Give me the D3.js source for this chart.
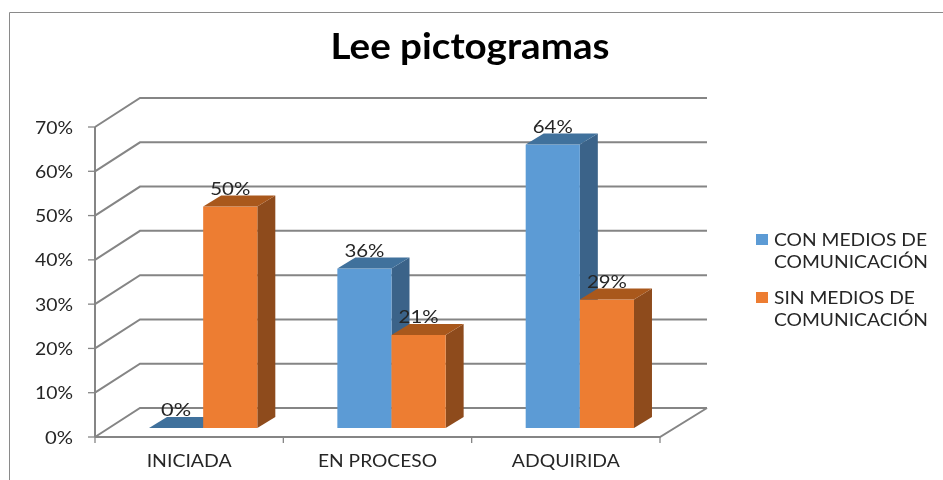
<!DOCTYPE html>
<html><head><meta charset="utf-8">
<script src="https://cdn.jsdelivr.net/npm/d3@7"></script>
<style>html,body{margin:0;padding:0;background:#fff}svg{display:block}text{font-family:Lato,"Open Sans",sans-serif;fill:#262626}</style>
</head><body><svg id="c" width="943" height="480"></svg>
<script>
const categories = ["INICIADA", "EN PROCESO", "ADQUIRIDA"];
const seriesNames = ["CON MEDIOS DE COMUNICACIÓN", "SIN MEDIOS DE COMUNICACIÓN"];
const conMedios = [0, 36, 64];
const sinMedios = [50, 21, 29];
const yTicks = [0, 10, 20, 30, 40, 50, 60, 70];
const legendLines = [["CON MEDIOS DE", "COMUNICACIÓN"], ["SIN MEDIOS DE", "COMUNICACIÓN"]];
const title = "Lee pictogramas";

const colors = [{front:"#5b9bd5", side:"#3a6389", top:"#41719c"}, {front:"#ed7d31", side:"#8e4b1d", top:"#a9591f"}];
const svg = d3.select("#c");
const defs = svg.append("defs");
defs.append("filter").attr("id","soft").append("feGaussianBlur").attr("stdDeviation",0.5);
const root = svg.append("g").attr("filter","url(#soft)");
root.append("rect").attr("width",943).attr("height",480).attr("fill","#fff");

const x0 = 95, x1 = 660, y0 = 437, yTop = 127, depthX = 45, depthY = 29;
const y = d3.scaleLinear().domain([0,70]).range([y0,yTop]);
const x = d3.scaleBand().domain(categories).range([x0,x1]);
const inner = d3.scaleBand().domain([0,1]).range([x.bandwidth()*0.2125, x.bandwidth()*0.7875]);
const gridColor = "#858585";
const pctW = v => v < 10 ? 28 : 38;

// frame
root.append("path").attr("d","M9.5 480V12.5H943").attr("fill","none").attr("stroke","#8a8a8a").attr("stroke-width",1);

// walls
yTicks.forEach(t=>{
  const yy = y(t);
  root.append("path").attr("fill","none").attr("stroke",gridColor).attr("stroke-width",2)
    .attr("d",`M${x0} ${yy}L${x0+depthX} ${yy-depthY}H${x1+depthX+2}`);
  root.append("line").attr("x1",x0-7).attr("x2",x0).attr("y1",yy).attr("y2",yy).attr("stroke",gridColor).attr("stroke-width",1.3);
  root.append("text").attr("x",73).attr("y",yy+2).attr("text-anchor","end")
    .attr("dominant-baseline","middle").attr("font-size",18).attr("textLength",pctW(t)).attr("lengthAdjust","spacingAndGlyphs").text(t+"%");
});
root.append("line").attr("x1",x0).attr("x2",x0).attr("y1",yTop).attr("y2",y0).attr("stroke",gridColor).attr("stroke-width",2);
root.append("path").attr("fill","none").attr("stroke",gridColor).attr("stroke-width",2)
  .attr("d",`M${x1+depthX+2} ${y0-depthY}L${x1} ${y0}H${x0}`);
[...categories.map(c=>x(c)), x1].forEach(px=>{
  root.append("line").attr("x1",px).attr("x2",px).attr("y1",y0).attr("y2",y0+6).attr("stroke",gridColor).attr("stroke-width",1.3);
});

// bars
const barShiftX = 14, barShiftY = 9, barDX = 18, barDY = 11;
[conMedios, sinMedios].forEach((vals,s)=>{
  categories.forEach((c,i)=>{
    const v = vals[i];
    const L = x(c)+inner(s)+barShiftX, W = inner.bandwidth(), R = L+W;
    const B = y(0)-barShiftY, T = y(v)-barShiftY;
    const g = root.append("g");
    if(v>0){
      g.append("path").attr("fill",colors[s].side).attr("d",`M${R} ${B}V${T}l${barDX} ${-barDY}V${B-barDY}Z`);
      g.append("rect").attr("x",L).attr("y",T).attr("width",W).attr("height",B-T).attr("fill",colors[s].front);
    }
    g.append("path").attr("fill",colors[s].top).attr("d",`M${L} ${T}H${R}l${barDX} ${-barDY}H${L+barDX}Z`);
  });
});
// data labels on top
[conMedios, sinMedios].forEach((vals,s)=>{
  categories.forEach((c,i)=>{
    const L = x(c)+inner(s)+barShiftX+inner.bandwidth()/2;
    root.append("text").attr("x",L).attr("y",y(vals[i])-barShiftY-16.5).attr("text-anchor","middle")
      .attr("dominant-baseline","middle").attr("font-size",18).attr("textLength",pctW(vals[i])+2).attr("lengthAdjust","spacingAndGlyphs").text(vals[i]+"%");
  });
});
// category labels
const catW = [85,119,108];
categories.forEach((c,i)=>{
  root.append("text").attr("x",x(c)+x.bandwidth()/2).attr("y",463).attr("text-anchor","middle")
    .attr("dominant-baseline","middle").attr("font-size",16.5).attr("textLength",catW[i]).attr("lengthAdjust","spacingAndGlyphs").text(c);
});
// title
root.append("text").attr("x",470).attr("y",50).attr("text-anchor","middle").attr("dominant-baseline","middle")
  .attr("font-size",36).attr("font-weight",700).style("fill","#000").attr("textLength",279).attr("lengthAdjust","spacingAndGlyphs").text(title);
// legend
const legY = [240,298], legW=[[153,154],[141,154]];
legendLines.forEach((lines,s)=>{
  root.append("rect").attr("x",756).attr("y",legY[s]-6).attr("width",12).attr("height",11).attr("fill",colors[s].front);
  lines.forEach((t,k)=>{
    root.append("text").attr("x",774).attr("y",legY[s]+1.5+k*22.5).attr("dominant-baseline","middle").attr("font-size",17)
      .attr("textLength",legW[s][k]).attr("lengthAdjust","spacingAndGlyphs").text(t);
  });
});
</script></body></html>
